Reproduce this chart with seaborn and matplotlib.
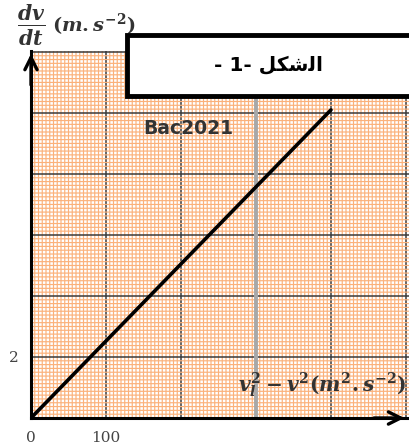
import numpy as np
import pandas as pd
import matplotlib
matplotlib.use("Agg")
import matplotlib.pyplot as plt
import seaborn as sns
from matplotlib.patches import Rectangle

# ---- data ----
v2_values = [0, 400]          # v_l^2 - v^2 (m^2.s^-2)
accel_values = [0, 10.1]      # dv/dt (m.s^-2)
x_major = [0, 100, 200, 300, 400, 500]
x_labels = ["0", "100", "", "", "", ""]
y_major = [0, 2, 4, 6, 8, 10, 12]
y_labels = ["", "2", "", "", "", "", ""]
title_text = "- 1- " + "\uFEDE\uFEDC\uFEB7\uFEDF\uFE8D"   # الشكل -1 - (shaped, visual order)
watermark = "Bac2021"

sns.set_style("white")
plt.rcParams["mathtext.fontset"] = "custom"
plt.rcParams["mathtext.it"] = "DejaVu Serif:italic:bold"
plt.rcParams["mathtext.rm"] = "DejaVu Serif:bold"
plt.rcParams["mathtext.bf"] = "DejaVu Serif:bold"
plt.rcParams["font.family"] = ["DejaVu Sans"]

W, H = 409, 447
fig = plt.figure(figsize=(W / 100, H / 100), dpi=100)
left, right, bottom, top = 31, 409, 418, 51
ax = fig.add_axes([left / W, (H - bottom) / H, (right - left) / W, (bottom - top) / H])
ax.set_xlim(0, 504)
ax.set_ylim(0, 12.03)

# minor (orange) grid
ax.set_xticks(np.arange(0, 505, 5), minor=True)
ax.set_yticks(np.arange(0, 12.05, 0.125), minor=True)
ax.grid(which="minor", color="#FBB17A", lw=0.85, alpha=1.0, snap=False)
# major grid
ax.set_xticks(x_major)
ax.set_xticklabels(x_labels)
ax.set_yticks(y_major)
ax.set_yticklabels(y_labels)
ax.grid(which="major", color="#3a3a3a", lw=1.1)
ax.axvline(300, color="#A8A8A8", lw=2.8, zorder=1.5)
ax.tick_params(which="both", length=0)
ax.tick_params(axis="x", pad=9, labelsize=11, labelcolor="#444444")
ax.tick_params(axis="y", pad=9, labelsize=11, labelcolor="#444444")
for lab in ax.get_xticklabels() + ax.get_yticklabels():
    lab.set_family("DejaVu Serif")

for s in ["top", "right"]:
    ax.spines[s].set_visible(False)
for s in ["left", "bottom"]:
    ax.spines[s].set_color("black")
    ax.spines[s].set_linewidth(2.2)

df = pd.DataFrame({"x": v2_values, "y": accel_values})
sns.lineplot(data=df, x="x", y="y", ax=ax, color="black", lw=2.6, zorder=5)
ax.set_xlabel("")
ax.set_ylabel("")

# axis arrows
ax.annotate("", xy=(0, 1.0), xytext=(0, 0.9), xycoords="axes fraction",
            arrowprops=dict(arrowstyle="->", lw=2.4, color="black", mutation_scale=22),
            annotation_clip=False)
ax.annotate("", xy=(0.995, 0), xytext=(0.9, 0), xycoords="axes fraction",
            arrowprops=dict(arrowstyle="->", lw=2.4, color="black", mutation_scale=22),
            annotation_clip=False)

ax.text(150, 9.5, watermark, fontsize=13.5, fontweight="bold", color="#333333",
        ha="left", va="center", zorder=6)

# axis labels
fig.text(17 / W, 1 - 25 / H, r"$\frac{dv}{dt}$", fontsize=21,
         color="#333333", ha="left", va="center")
fig.text(52 / W, 1 - 25 / H, r"$(m.s^{-2})$", fontsize=14,
         color="#333333", ha="left", va="center")
fig.text(407 / W, 1 - 385 / H, r"$v_l^2 - v^2(m^2.s^{-2})$", fontsize=14.5,
         color="#333333", ha="right", va="center", zorder=6)

# title box
rect = Rectangle((127 / W, 1 - 96 / H), (W + 5 - 127) / W, (96 - 35) / H,
                 transform=fig.transFigure, facecolor="white", edgecolor="black",
                 lw=3.5, zorder=10)
fig.add_artist(rect)
fig.text(269 / W, 1 - 65 / H, title_text, fontsize=14.5, fontweight="bold",
         color="black", ha="center", va="center", zorder=11)

fig.savefig("out.png", dpi=100)
